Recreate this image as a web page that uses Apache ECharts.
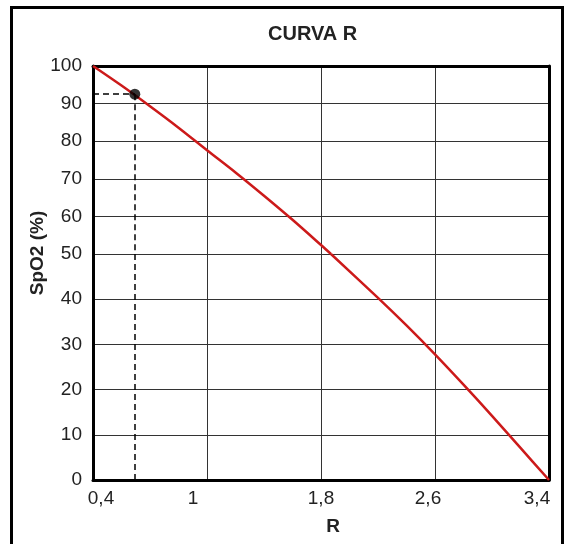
<!DOCTYPE html>
<html>
<head>
<meta charset="utf-8">
<script src="https://cdn.jsdelivr.net/npm/echarts@6/dist/echarts.min.js"></script>
<style>
  html, body { margin: 0; padding: 0; background: #fff; }
  #myChart { width: 573px; height: 544px; }
</style>
</head>
<body>
<div id="myChart"></div>
<script>
// tick values of the R axis (drawn evenly spaced, like the original) and their labels
const xTickValues = [0.4, 1, 1.8, 2.6, 3.4];
const xTickLabels = ["0,4", "1", "1,8", "2,6", "3,4"];

// curve
const curveR = [0.4, 0.55, 0.7, 0.85, 1.0, 1.2, 1.4, 1.6, 1.8, 1.87, 2.2, 2.4, 2.6, 2.8, 3.0, 3.2, 3.4];
const curveSpO2 = [100, 94.8, 89.3, 83.6, 77.6, 71.7, 65.5, 59.1, 52.4, 50, 40.3, 34.2, 27.8, 21.1, 14.2, 7.1, 0];

// marked point
const pointR = [0.62];
const pointSpO2 = [92.5];

// R -> position between the evenly spaced ticks
function rToPos(r) {
  for (let i = 0; i < xTickValues.length - 1; i++) {
    const a = xTickValues[i], b = xTickValues[i + 1];
    if (r <= b || i === xTickValues.length - 2) {
      return i + (r - a) / (b - a);
    }
  }
}

const curve = curveR.map((r, i) => [rToPos(r), curveSpO2[i]]);
// the SpO2 scale is drawn in two parts (50-100 and 0-50 have different spacing)
const upper = curve.filter(p => p[1] >= 50);
const lower = curve.filter(p => p[1] <= 50);
const pt = [rToPos(pointR[0]), pointSpO2[0]];

const font = "Liberation Sans, Arial, sans-serif";
const gridColor = "#333";
// small shifts so labels sit like the original ones
const labelRich = {
  a: { fontSize: 19, color: "#222", fontFamily: font, padding: [0, 0, 0, 16] },
  b: { fontSize: 19, color: "#222", fontFamily: font, padding: [0, 28, 0, 0] },
  c: { fontSize: 19, color: "#222", fontFamily: font },
  d: { fontSize: 19, color: "#222", fontFamily: font, padding: [0, 14, 0, 0] },
  e: { fontSize: 19, color: "#222", fontFamily: font, padding: [0, 24, 0, 0] }
};
const richKeys = ["a", "b", "c", "d", "e"];

const dash = { color: "#000", width: 1.5, type: [6, 4] };
const thick = { show: true, onZero: false, lineStyle: { color: "#000", width: 3 } };
const red = { color: "#cc1a1a", width: 2.5 };

let myChart = echarts.init(document.getElementById("myChart"));
myChart.setOption({
  animation: false,
  backgroundColor: "#fff",
  title: {
    text: "CURVA R",
    left: 268,
    top: 24,
    padding: 0,
    textStyle: { fontSize: 20, fontWeight: "bold", color: "#222", fontFamily: font }
  },
  graphic: [
    {
      type: "rect",
      shape: { x: 11.5, y: 7.5, width: 551, height: 600 },
      style: { fill: null, stroke: "#000", lineWidth: 3 },
      silent: true
    },
    {
      type: "text",
      x: 38,
      y: 253,
      rotation: Math.PI / 2,
      style: {
        text: "SpO2 (%)",
        fontSize: 19,
        fontWeight: "bold",
        fontFamily: font,
        fill: "#222",
        align: "center",
        verticalAlign: "middle"
      }
    }
  ],
  grid: [
    { left: 93, right: 24, top: 66, height: 188 },
    { left: 93, right: 24, top: 254, height: 226 }
  ],
  xAxis: [
    {
      gridIndex: 0,
      type: "value",
      position: "top",
      min: 0,
      max: 4,
      interval: 1,
      axisLine: thick,
      axisTick: { show: false },
      axisLabel: { show: false },
      splitLine: { show: true, lineStyle: { color: gridColor, width: 1 } }
    },
    {
      gridIndex: 1,
      type: "value",
      position: "bottom",
      min: 0,
      max: 4,
      interval: 1,
      name: "R",
      nameLocation: "middle",
      nameGap: 37,
      nameTextStyle: {
        fontSize: 19, fontWeight: "bold", color: "#222", fontFamily: font,
        padding: [0, 0, 0, 24]
      },
      axisLine: thick,
      axisTick: { show: false },
      axisLabel: {
        margin: 9,
        formatter: v => "{" + richKeys[v] + "|" + xTickLabels[v] + "}",
        rich: labelRich
      },
      splitLine: { show: true, lineStyle: { color: gridColor, width: 1 } }
    }
  ],
  yAxis: [
    {
      gridIndex: 0,
      type: "value",
      min: 50,
      max: 100,
      interval: 10,
      axisLine: thick,
      axisTick: { show: false },
      axisLabel: {
        showMinLabel: false,
        margin: 11,
        fontSize: 19,
        color: "#222",
        fontFamily: font
      },
      splitLine: { show: true, lineStyle: { color: gridColor, width: 1 } }
    },
    {
      gridIndex: 1,
      type: "value",
      min: 0,
      max: 50,
      interval: 10,
      axisLine: thick,
      axisTick: { show: false },
      axisLabel: { margin: 11, fontSize: 19, color: "#222", fontFamily: font },
      splitLine: { show: true, lineStyle: { color: gridColor, width: 1 } }
    },
    {
      gridIndex: 0,
      type: "value",
      position: "right",
      min: 50,
      max: 100,
      axisLine: thick,
      axisTick: { show: false },
      axisLabel: { show: false },
      splitLine: { show: false }
    },
    {
      gridIndex: 1,
      type: "value",
      position: "right",
      min: 0,
      max: 50,
      axisLine: thick,
      axisTick: { show: false },
      axisLabel: { show: false },
      splitLine: { show: false }
    }
  ],
  series: [
    {
      type: "line",
      xAxisIndex: 1,
      yAxisIndex: 1,
      data: lower,
      smooth: 0.3,
      showSymbol: false,
      lineStyle: red,
      markLine: {
        silent: true,
        symbol: "none",
        label: { show: false },
        lineStyle: dash,
        data: [[{ coord: [pt[0], 50] }, { coord: [pt[0], 0] }]]
      }
    },
    {
      type: "line",
      xAxisIndex: 0,
      yAxisIndex: 0,
      data: upper,
      smooth: 0.3,
      showSymbol: false,
      lineStyle: red
    },
    {
      type: "scatter",
      xAxisIndex: 0,
      yAxisIndex: 0,
      data: [pt],
      symbolSize: 11,
      itemStyle: { color: "#000" },
      z: 5,
      markLine: {
        silent: true,
        symbol: "none",
        label: { show: false },
        lineStyle: dash,
        data: [
          [{ coord: [0, pt[1]] }, { coord: [pt[0], pt[1]] }],
          [{ coord: [pt[0], pt[1]] }, { coord: [pt[0], 50] }]
        ]
      }
    }
  ]
});
</script>
</body>
</html>
